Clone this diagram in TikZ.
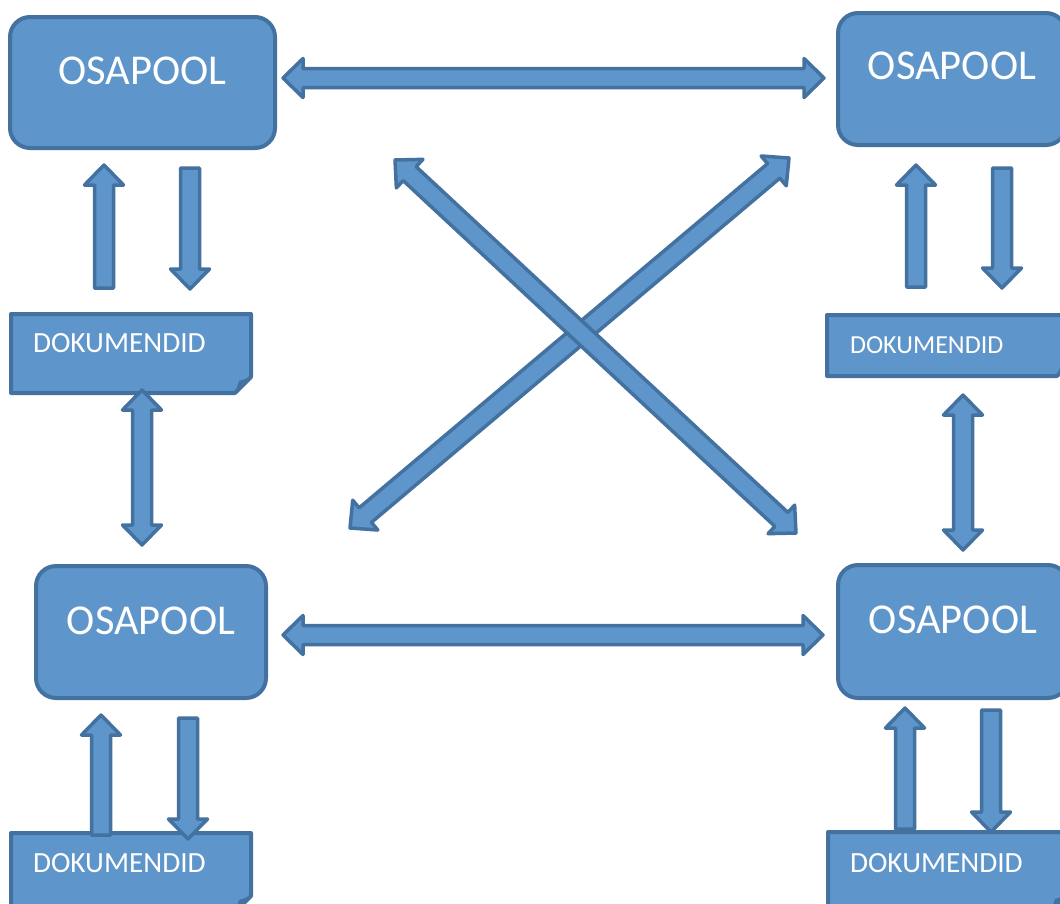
\documentclass[tikz,border=0pt]{standalone}
\usepackage{fontspec}
\setmainfont{Carlito}
\usetikzlibrary{calc,backgrounds}
\definecolor{boxfill}{RGB}{94,149,202}
\definecolor{boxedge}{RGB}{68,114,160}
\newcommand{\arhead}{20pt}
\newcommand{\arwide}{19.5pt}
\newcommand{\arshaft}{9.5pt}
\newcommand{\dblarrow}[2]{%
  \filldraw[blockarrow] (#1)
    -- ($(#1)!\arhead!(#2)!\arwide!90:(#2)$) -- ($(#1)!\arhead!(#2)!\arshaft!90:(#2)$)
    -- ($(#2)!\arhead!(#1)!\arshaft!-90:(#1)$) -- ($(#2)!\arhead!(#1)!\arwide!-90:(#1)$)
    -- (#2)
    -- ($(#2)!\arhead!(#1)!\arwide!90:(#1)$) -- ($(#2)!\arhead!(#1)!\arshaft!90:(#1)$)
    -- ($(#1)!\arhead!(#2)!\arshaft!-90:(#2)$) -- ($(#1)!\arhead!(#2)!\arwide!-90:(#2)$)
    -- cycle;}
\newcommand{\sglarrow}[2]{%
  \filldraw[blockarrow] ($(#1)!\arshaft!90:(#2)$)
    -- ($(#2)!\arhead!(#1)!\arshaft!-90:(#1)$) -- ($(#2)!\arhead!(#1)!\arwide!-90:(#1)$)
    -- (#2)
    -- ($(#2)!\arhead!(#1)!\arwide!90:(#1)$) -- ($(#2)!\arhead!(#1)!\arshaft!90:(#1)$)
    -- ($(#1)!\arshaft!-90:(#2)$) -- cycle;}
\newcommand{\docshape}[1]{%
  \filldraw[docline] (#1.north west) -- (#1.north east) -- ([yshift=16pt]#1.south east)
    -- ([xshift=-16pt]#1.south east) -- (#1.south west) -- cycle;
  \fill[boxedge] ([xshift=-16pt]#1.south east) -- ([xshift=-12pt,yshift=12pt]#1.south east)
    -- ([yshift=16pt]#1.south east) -- cycle;}

\begin{document}
\begin{tikzpicture}[x=1pt,y=-1pt,
  poolbox/.style={fill=boxfill,draw=boxedge,line width=4pt,rounded corners=20pt,text=white,
    font=\fontsize{42.5}{50}\selectfont,text height=26pt,text depth=#1},
  docbox/.style={text=white,font=\fontsize{29.3}{35}\selectfont,align=left,inner ysep=2pt,
    outer sep=0pt,text height=18.5pt,text depth=#1},
  docline/.style={fill=boxfill,draw=boxedge,line width=4pt,line join=round},
  blockarrow/.style={fill=boxfill,draw=boxedge,line width=3.5pt,line join=round}]
  \useasboundingbox (0,0) rectangle (1060,903);

  \node[poolbox=23pt,minimum width=265pt,minimum height=131pt] (tl) at (142.5,82.5) {OSAPOOL};
  \node[poolbox=26pt,minimum width=228pt,minimum height=132pt] (tr) at (952,79) {OSAPOOL};
  \node[poolbox=22pt,minimum width=230pt,minimum height=132pt] (bl) at (151,632) {OSAPOOL};
  \node[poolbox=22pt,minimum width=230pt,minimum height=133pt] (br) at (953,631.5) {OSAPOOL};

  \node[docbox=21pt,text width=196pt,inner xsep=22pt,minimum height=79pt] (dtl) at (131,353.5) {DOKUMENDID};
  \node[docbox=1pt,font=\fontsize{26}{31}\selectfont,text height=16.5pt,text width=200pt,
    inner xsep=23pt,minimum height=61pt] (dtr) at (950,345.5) {DOKUMENDID};
  \node[docbox=19pt,text width=196pt,inner xsep=22pt,minimum height=79pt] (dbl) at (131,872.5) {DOKUMENDID};
  \node[docbox=17pt,text width=195pt,inner xsep=22pt,minimum height=79pt] (dbr) at (947.5,871.5) {DOKUMENDID};
  \begin{scope}[on background layer]
    \docshape{dtl}\docshape{dtr}\docshape{dbl}\docshape{dbr}
  \end{scope}

  \coordinate (h1a) at ([xshift=6pt,yshift=4.5pt]tl.east);
  \coordinate (h1b) at ([xshift=-12pt,yshift=1pt]tr.west);
  \coordinate (h2a) at ([xshift=15pt,yshift=-3pt]bl.east);
  \coordinate (h2b) at ([xshift=-13pt,yshift=-3.5pt]br.west);
  \coordinate (v1a) at ([xshift=11pt,yshift=3pt]dtl.south);
  \coordinate (v1b) at ([xshift=-9pt,yshift=19pt]bl.north);
  \coordinate (v2a) at ([xshift=13pt,yshift=-19pt]dtr.south);
  \coordinate (v2b) at ([xshift=10pt,yshift=13pt]br.north);

  \coordinate (u1a) at ([xshift=-27pt,yshift=26pt]dtl.north);
  \coordinate (u1b) at ([xshift=-38.5pt,yshift=-15pt]tl.south);
  \coordinate (d1a) at ([xshift=47.5pt,yshift=-18pt]tl.south);
  \coordinate (d1b) at ([xshift=59pt,yshift=25pt]dtl.north);
  \coordinate (u2a) at ([xshift=-34pt,yshift=28pt]dtr.north);
  \coordinate (u2b) at ([xshift=-36pt,yshift=-18pt]tr.south);
  \coordinate (d2a) at ([xshift=50pt,yshift=-21pt]tr.south);
  \coordinate (d2b) at ([xshift=52pt,yshift=27pt]dtr.north);
  \coordinate (u3a) at ([xshift=-30pt,yshift=-2pt]dbl.north);
  \coordinate (u3b) at ([xshift=-50pt,yshift=-15pt]bl.south);
  \coordinate (d3a) at ([xshift=37pt,yshift=-18pt]bl.south);
  \coordinate (d3b) at ([xshift=57pt,yshift=-6pt]dbl.north);
  \coordinate (u4a) at ([xshift=-42.5pt,yshift=3pt]dbr.north);
  \coordinate (u4b) at ([xshift=-48pt,yshift=-8pt]br.south);
  \coordinate (d4a) at ([xshift=38pt,yshift=-10pt]br.south);
  \coordinate (d4b) at ([xshift=43.5pt]dbr.north);

  \coordinate (x1a) at ([xshift=118pt,yshift=-10pt]tl.south east);
  \coordinate (x1b) at ([xshift=-40pt,yshift=30pt]br.north west);
  \coordinate (x2a) at ([xshift=-47pt,yshift=-11pt]tr.south west);
  \coordinate (x2b) at ([xshift=82pt,yshift=36pt]bl.north east);

  \dblarrow{h1a}{h1b}
  \dblarrow{h2a}{h2b}
  \dblarrow{v1a}{v1b}
  \dblarrow{v2a}{v2b}
  \sglarrow{u1a}{u1b}
  \sglarrow{d1a}{d1b}
  \sglarrow{u2a}{u2b}
  \sglarrow{d2a}{d2b}
  \sglarrow{u3a}{u3b}
  \sglarrow{d3a}{d3b}
  \sglarrow{u4a}{u4b}
  \sglarrow{d4a}{d4b}
  \dblarrow{x2a}{x2b}
  \dblarrow{x1a}{x1b}
\end{tikzpicture}
\end{document}
